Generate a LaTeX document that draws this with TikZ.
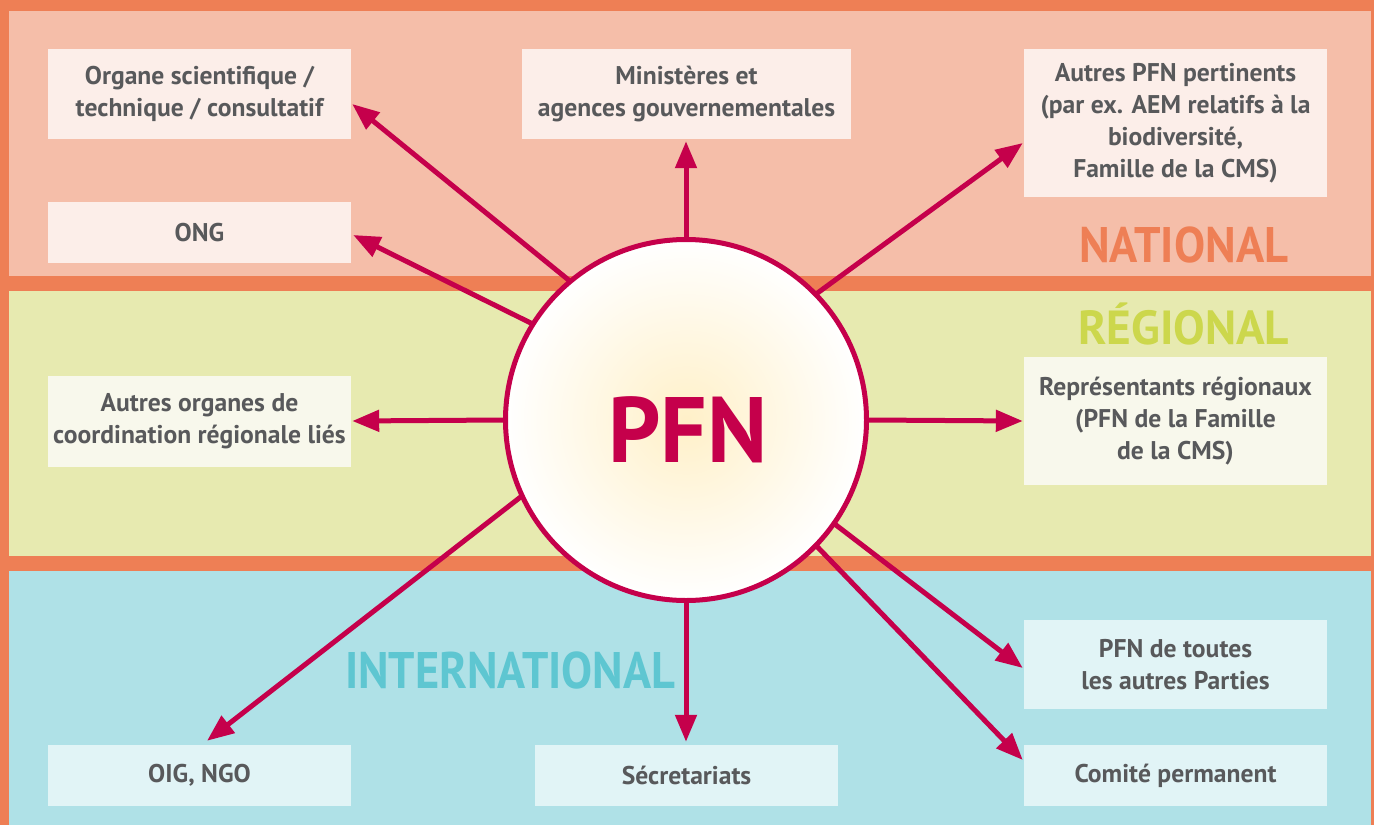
\documentclass[tikz,border=0pt]{standalone}
\usepackage{fontspec}
\setmainfont{PT Sans}
\usetikzlibrary{arrows.meta,calc}
\definecolor{frame}{RGB}{238,127,85}
\definecolor{natband}{RGB}{245,190,169}
\definecolor{regband}{RGB}{231,234,176}
\definecolor{intband}{RGB}{175,225,231}
\definecolor{natbox}{RGB}{252,238,233}
\definecolor{regbox}{RGB}{248,248,236}
\definecolor{intbox}{RGB}{225,244,246}
\definecolor{crim}{RGB}{197,0,75}
\definecolor{txt}{RGB}{88,89,91}
\definecolor{regtxt}{RGB}{204,215,76}
\definecolor{inttxt}{RGB}{94,198,209}
\definecolor{glow}{RGB}{255,240,200}
\newcommand{\capbox}[3]{\resizebox{#1}{#2}{\raisebox{0pt}[\fontcharht\font`N][0pt]{#3}}}
\begin{document}
\begin{tikzpicture}[x=1pt,y=-1pt,
  lbl/.style={inner sep=0pt, align=center, text=txt,
    font=\bfseries\fontsize{25.6}{32}\selectfont},
  natlbl/.style={lbl, fill=natbox},
  reglbl/.style={lbl, fill=regbox},
  intlbl/.style={lbl, fill=intbox},
  bigword/.style={inner sep=0pt, anchor=south west, font=\bfseries},
  link/.style={draw=crim, line width=5pt, shorten <=-2pt,
    -{Triangle[length=27pt,width=21pt]}}
]
\useasboundingbox (0,0) rectangle (1374,825);
% background frame and bands
\fill[frame] (0,0) rectangle (1374,825);
\fill[natband] (9,11) rectangle (1371,276);
\fill[regband] (9,291) rectangle (1371,556);
\fill[intband] (9,571) rectangle (1371,825);

% boxes
\node[natlbl, minimum width=303pt, minimum height=90pt] (org) at (199.5,94)
  {Organe scientifique /\\technique / consultatif};
\node[natlbl, minimum width=329pt, minimum height=90pt] (min) at (686.5,94)
  {Ministères et\\agences gouvernementales};
\node[natlbl, minimum width=303pt, minimum height=148pt] (aut) at (1175.5,123)
  {Autres PFN pertinents\\(par ex. AEM relatifs à la\\biodiversité,\\Famille de la CMS)};
\node[natlbl, minimum width=303pt, minimum height=61pt] (ong) at (199.5,232.5) {ONG};
\node[reglbl, minimum width=303pt, minimum height=91pt] (aor) at (199.5,421.5)
  {Autres organes de\\coordination régionale liés};
\node[reglbl, minimum width=303pt, minimum height=128pt] (rep) at (1175.5,421)
  {Représentants régionaux\\(PFN de la Famille\\de la CMS)};
\node[intlbl, minimum width=303pt, minimum height=89pt] (pfa) at (1175.5,664.5)
  {PFN de toutes\\les autres Parties};
\node[intlbl, minimum width=303pt, minimum height=61pt] (oig) at (199.5,775.5) {OIG, NGO};
\node[intlbl, minimum width=303pt, minimum height=61pt] (sec) at (686.5,775.5) {Sécretariats};
\node[intlbl, minimum width=303pt, minimum height=61pt] (com) at (1175.5,775.5) {Comité permanent};

% level labels
\node[bigword, text=frame] (lnat) at (1079,263) {\capbox{209pt}{35pt}{NATIONAL}};
\node[bigword, text=regtxt] (lreg) at (1078,345) {\capbox{211pt}{33.5pt}{RÉGIONAL}};
\node[bigword, text=inttxt] (lint) at (345,689) {\capbox{330pt}{36pt}{INTERNATIONAL}};

% central circle
\node[circle, draw=crim, line width=5pt, minimum size=361pt, inner sep=0pt,
  shading=radial, inner color=glow, outer color=white] (c) at (686,420) {};
\node[bigword, text=crim] (pfn) at (608,463) {\capbox{159pt}{65pt}{PFN}};

% arrow tips
\coordinate (t-org) at ([shift={(1,10)}]org.east);
\coordinate (t-min) at ([shift={(-0.5,2)}]min.south);
\coordinate (t-aut) at ([shift={(-1,20)}]aut.west);
\coordinate (t-ong) at ([shift={(2,2.5)}]ong.east);
\coordinate (t-aor) at ([shift={(1,-0.5)}]aor.east);
\coordinate (t-rep) at ([shift={(-1,0)}]rep.west);
\coordinate (t-oig) at ([shift={(7.5,-4)}]oig.north);
\coordinate (t-sec) at ([shift={(-0.5,-3)}]sec.north);
\coordinate (t-pfa) at ([shift={(-1,3.5)}]pfa.west);
\coordinate (t-com) at ([shift={(-1,-15.5)}]com.west);

% arrows
\draw[link] (c.130.5) -- (t-org);
\draw[link] (c.90) -- (t-min);
\draw[link] (c.44.3) -- (t-aut);
\draw[link] (c.148.9) -- (t-ong);
\draw[link] (c.180) -- (t-aor);
\draw[link] (c.0) -- (t-rep);
\draw[link] (c.205.7) -- (t-oig);
\draw[link] (c.270) -- (t-sec);
\draw[link] (c.-35.9) -- (t-pfa);
\draw[link] (c.-44.1) -- (t-com);
\end{tikzpicture}
\end{document}
